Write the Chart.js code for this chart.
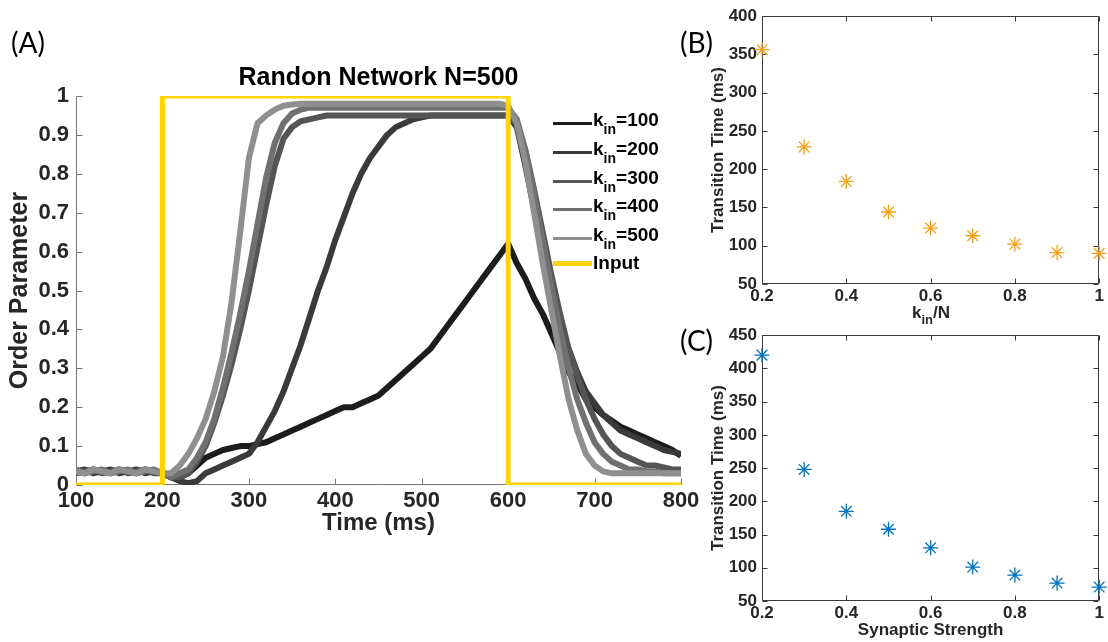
<!DOCTYPE html>
<html lang="en">
<head>
<meta charset="UTF-8">
<title>Randon Network N=500</title>
<script src="https://cdn.jsdelivr.net/npm/chart.js"></script>
<style>
    body { margin: 0; width: 1108px; height: 642px; background: #fff; position: relative; overflow: hidden;
           font-family: "Liberation Sans", Arial, Helvetica, sans-serif; }
    .caixa { position: absolute; }
    .painel { position: absolute; font-family: Lato, "Open Sans", sans-serif; font-size: 28px; line-height: 28px; color: #000; }
    .txt { position: absolute; font-weight: bold; white-space: nowrap; color: #000; }
    .txt sub { line-height: 0; }
    .leg { font-size: 19px; line-height: 19px; left: 593px; }
    .leg sub { font-size: 14px; vertical-align: -8px; }
    .traco { position: absolute; left: 553px; width: 39px; height: 3px; }
</style>
</head>
<body>

<div class="caixa" style="left:0;top:0;width:720px;height:560px"><canvas id="grafA"></canvas></div>
<div class="caixa" style="left:680px;top:0;width:428px;height:322px"><canvas id="grafB"></canvas></div>
<div class="caixa" style="left:680px;top:320px;width:428px;height:322px"><canvas id="grafC"></canvas></div>

<div class="painel" style="left:11px;top:28px">(A)</div>
<div class="painel" style="left:680px;top:28px">(B)</div>
<div class="painel" style="left:680px;top:326px">(C)</div>

<div class="txt" style="left:76px;width:605px;text-align:center;top:64px;font-size:25px;line-height:25px">Randon Network N=500</div>

<!-- legenda do painel A -->
<div class="traco" style="top:122px;background:#1c1c1c"></div>
<div class="txt leg" style="top:110px">k<sub>in</sub>=100</div>
<div class="traco" style="top:151px;background:#3a3a3a"></div>
<div class="txt leg" style="top:139px">k<sub>in</sub>=200</div>
<div class="traco" style="top:180px;background:#555555"></div>
<div class="txt leg" style="top:168px">k<sub>in</sub>=300</div>
<div class="traco" style="top:208px;background:#707070"></div>
<div class="txt leg" style="top:196px">k<sub>in</sub>=400</div>
<div class="traco" style="top:237px;background:#8f8f8f"></div>
<div class="txt leg" style="top:225px">k<sub>in</sub>=500</div>
<div class="traco" style="top:261px;height:5px;background:#ffd400"></div>
<div class="txt leg" style="top:253px">Input</div>

<div class="txt" style="left:880px;width:102px;text-align:center;top:304px;font-size:17px;line-height:17px;color:#262626">k<sub style="font-size:13px;vertical-align:-6px">in</sub>/N</div>

<script>
// ---- dados painel A ----
const tempo = [100, 110, 120, 130, 140, 150, 160, 170, 180, 190,
    200, 210, 220, 230, 240, 250, 260, 270, 280, 290,
    300, 310, 320, 330, 340, 350, 360, 370, 380, 390,
    400, 410, 420, 430, 440, 450, 460, 470, 480, 490,
    500, 510, 520, 530, 540, 550, 560, 570, 580, 590,
    600, 610, 620, 630, 640, 650, 660, 670, 680, 690,
    700, 710, 720, 730, 740, 750, 760, 770, 780, 790,
    800];

const k100 = [0.035, 0.03, 0.04, 0.035, 0.03, 0.04, 0.035, 0.03, 0.04, 0.035,
    0.03, 0.02, 0.02, 0.03, 0.05, 0.07, 0.08, 0.09, 0.095, 0.10,
    0.10, 0.105, 0.11, 0.12, 0.13, 0.14, 0.15, 0.16, 0.17, 0.18,
    0.19, 0.20, 0.20, 0.21, 0.22, 0.23, 0.25, 0.27, 0.29, 0.31,
    0.33, 0.35, 0.38, 0.41, 0.44, 0.47, 0.50, 0.53, 0.56, 0.59,
    0.62, 0.57, 0.53, 0.48, 0.44, 0.39, 0.34, 0.29, 0.26, 0.22,
    0.20, 0.18, 0.165, 0.15, 0.14, 0.13, 0.12, 0.11, 0.10, 0.09,
    0.075];

const k200 = [0.035, 0.04, 0.03, 0.035, 0.04, 0.03, 0.035, 0.04, 0.03, 0.035,
    0.03, 0.02, 0.01, 0.005, 0.01, 0.03, 0.04, 0.05, 0.06, 0.07,
    0.08, 0.11, 0.15, 0.19, 0.24, 0.30, 0.36, 0.43, 0.50, 0.56,
    0.63, 0.69, 0.75, 0.80, 0.84, 0.87, 0.90, 0.92, 0.93, 0.94,
    0.945, 0.95, 0.95, 0.95, 0.95, 0.95, 0.95, 0.95, 0.95, 0.95,
    0.95, 0.92, 0.82, 0.71, 0.60, 0.50, 0.42, 0.35, 0.29, 0.24,
    0.21, 0.18, 0.16, 0.14, 0.13, 0.12, 0.11, 0.10, 0.09, 0.085,
    0.08];

const k300 = [0.03, 0.035, 0.04, 0.03, 0.035, 0.04, 0.03, 0.035, 0.04, 0.03,
    0.03, 0.02, 0.02, 0.03, 0.06, 0.10, 0.16, 0.23, 0.31, 0.40,
    0.50, 0.61, 0.72, 0.82, 0.89, 0.92, 0.935, 0.94, 0.945, 0.95,
    0.95, 0.95, 0.95, 0.95, 0.95, 0.95, 0.95, 0.95, 0.95, 0.95,
    0.95, 0.95, 0.95, 0.95, 0.95, 0.95, 0.95, 0.95, 0.95, 0.95,
    0.95, 0.93, 0.86, 0.76, 0.65, 0.54, 0.44, 0.35, 0.28, 0.22,
    0.17, 0.13, 0.10, 0.08, 0.07, 0.06, 0.05, 0.05, 0.045, 0.04,
    0.04];

const k400 = [0.04, 0.03, 0.035, 0.04, 0.03, 0.035, 0.04, 0.03, 0.035, 0.04,
    0.03, 0.02, 0.03, 0.04, 0.07, 0.11, 0.17, 0.25, 0.34, 0.44,
    0.55, 0.67, 0.79, 0.88, 0.93, 0.955, 0.965, 0.97, 0.97, 0.97,
    0.97, 0.97, 0.97, 0.97, 0.97, 0.97, 0.97, 0.97, 0.97, 0.97,
    0.97, 0.97, 0.97, 0.97, 0.97, 0.97, 0.97, 0.97, 0.97, 0.97,
    0.97, 0.94, 0.86, 0.75, 0.63, 0.51, 0.40, 0.30, 0.22, 0.16,
    0.11, 0.08, 0.06, 0.05, 0.04, 0.04, 0.035, 0.035, 0.03, 0.03,
    0.03];

const k500 = [0.035, 0.03, 0.04, 0.035, 0.03, 0.04, 0.035, 0.03, 0.04, 0.035,
    0.03, 0.03, 0.05, 0.08, 0.12, 0.17, 0.24, 0.33, 0.47, 0.65,
    0.84, 0.93, 0.95, 0.965, 0.975, 0.978, 0.98, 0.98, 0.98, 0.98,
    0.98, 0.98, 0.98, 0.98, 0.98, 0.98, 0.98, 0.98, 0.98, 0.98,
    0.98, 0.98, 0.98, 0.98, 0.98, 0.98, 0.98, 0.98, 0.98, 0.98,
    0.975, 0.93, 0.83, 0.70, 0.57, 0.45, 0.33, 0.22, 0.14, 0.08,
    0.05, 0.035, 0.03, 0.03, 0.03, 0.03, 0.03, 0.03, 0.03, 0.03,
    0.03];

const entradaX = [100, 200, 200, 600, 600, 800];
const entradaY = [0, 0, 1, 1, 0, 0];

const ticksTempo = [100, 200, 300, 400, 500, 600, 700, 800];
const ticksOrdem = [0, 0.1, 0.2, 0.3, 0.4, 0.5, 0.6, 0.7, 0.8, 0.9, 1];

// ---- dados paineis B e C ----
const fracao = [0.2, 0.3, 0.4, 0.5, 0.6, 0.7, 0.8, 0.9, 1];
const tempoTransK = [356, 229, 184, 144, 123, 113, 102, 91, 90];
const forca = [0.2, 0.3, 0.4, 0.5, 0.6, 0.7, 0.8, 0.9, 1];
const tempoTransS = [420, 248, 185, 158, 130, 101, 89, 77, 71];

const ticksFracao = [0.2, 0.4, 0.6, 0.8, 1];
const ticksB = [50, 100, 150, 200, 250, 300, 350, 400];
const ticksC = [50, 100, 150, 200, 250, 300, 350, 400, 450];

const FONTE = '"Liberation Sans", Arial, Helvetica, sans-serif';
Chart.defaults.font.family = FONTE;

// eixos com marcas para dentro (estilo matlab)
const eixos = {
    id: 'eixos',
    beforeDatasetsDraw(chart, args, o) {
        const ctx = chart.ctx, a = chart.chartArea;
        const sx = chart.scales.x, sy = chart.scales.y;
        const L = Math.round(a.left) + 0.5, R = Math.round(a.right) - 0.5;
        const T = Math.round(a.top) + 0.5, B = Math.round(a.bottom) - 0.5;
        ctx.save();
        ctx.lineWidth = 1;
        ctx.strokeStyle = o.cor;
        ctx.beginPath();
        ctx.moveTo(L, T); ctx.lineTo(L, B); ctx.lineTo(R, B);
        if (o.caixa) { ctx.lineTo(R, T); ctx.closePath(); }
        sx.ticks.forEach(t => {
            const p = Math.round(sx.getPixelForValue(t.value)) + 0.5;
            ctx.moveTo(p, B); ctx.lineTo(p, B - o.tam);
            if (o.caixa) { ctx.moveTo(p, T); ctx.lineTo(p, T + o.tam); }
        });
        sy.ticks.forEach(t => {
            const p = Math.round(sy.getPixelForValue(t.value)) + 0.5;
            ctx.moveTo(L, p); ctx.lineTo(L + o.tam, p);
            if (o.caixa) { ctx.moveTo(R, p); ctx.lineTo(R - o.tam, p); }
        });
        ctx.stroke();
        ctx.restore();
    }
};

function pares(xs, ys) {
    return ys.map((v, i) => ({ x: xs[i], y: v }));
}

function fmt(v) {
    return String(Math.round(v * 10) / 10);
}

// ---- painel A ----
function serie(dados, cor, ordem) {
    return {
        data: pares(tempo, dados), borderColor: cor, borderWidth: 6, pointRadius: 0,
        tension: 0, fill: false, order: ordem, borderJoinStyle: 'round'
    };
}

new Chart(document.getElementById('grafA'), {
    type: 'line',
    data: {
        datasets: [
            { data: pares(entradaX, entradaY), borderColor: '#ffd400', borderWidth: 5, pointRadius: 0,
              tension: 0, fill: false, order: 0, borderJoinStyle: 'miter' },
            serie(k500, '#8f8f8f', 1),
            serie(k400, '#707070', 2),
            serie(k300, '#555555', 3),
            serie(k200, '#3a3a3a', 4),
            serie(k100, '#1c1c1c', 5)
        ]
    },
    options: {
        responsive: true, maintainAspectRatio: false, animation: false,
        layout: { padding: { top: 96, right: 39, left: 0, bottom: 0 } },
        plugins: { legend: { display: false }, tooltip: { enabled: false },
                   eixos: { cor: '#777', tam: 6, caixa: false } },
        scales: {
            x: {
                type: 'linear', min: 100, max: 800,
                afterBuildTicks: s => { s.ticks = ticksTempo.map(v => ({ value: v })); },
                afterFit: s => { s.height = 75; },
                grid: { display: false, drawTicks: false }, border: { display: false },
                ticks: { padding: 3, color: '#262626', maxRotation: 0, autoSkip: false,
                         font: { size: 22, weight: 'bold' } },
                title: { display: true, text: 'Time (ms)', color: '#262626',
                         font: { size: 24, weight: 'bold' }, padding: { top: 0, bottom: 22 } }
            },
            y: {
                min: 0, max: 1,
                afterBuildTicks: s => { s.ticks = ticksOrdem.map(v => ({ value: v })); },
                afterFit: s => { s.width = 76; },
                grid: { display: false, drawTicks: false }, border: { display: false },
                ticks: { padding: 7, color: '#262626', autoSkip: false, callback: fmt,
                         font: { size: 22, weight: 'bold' } },
                title: { display: true, text: 'Order Parameter', color: '#262626',
                         font: { size: 25, weight: 'bold' }, padding: { top: 5, bottom: 0 } }
            }
        }
    },
    plugins: [eixos]
});

// ---- paineis B e C ----
function dispersao(id, xs, ys, cor, yMin, yMax, yTicks, topo, direita, altX, tituloX) {
    const escalaX = {
        type: 'linear', min: 0.2, max: 1,
        afterBuildTicks: s => { s.ticks = ticksFracao.map(v => ({ value: v })); },
        afterFit: s => { s.height = altX; },
        grid: { display: false, drawTicks: false }, border: { display: false },
        ticks: { padding: 2, color: '#262626', maxRotation: 0, autoSkip: false, callback: fmt,
                 font: { size: 17, weight: 'bold' } }
    };
    if (tituloX) {
        escalaX.title = { display: true, text: tituloX, color: '#262626',
                          font: { size: 17, weight: 'bold' }, padding: { top: 0, bottom: 1 } };
    }
    new Chart(document.getElementById(id), {
        type: 'scatter',
        data: {
            datasets: [{
                data: pares(xs, ys), pointStyle: 'star', pointRadius: 7.5, borderWidth: 1.3,
                borderColor: cor, backgroundColor: cor, clip: false
            }]
        },
        options: {
            responsive: true, maintainAspectRatio: false, animation: false,
            layout: { padding: { top: topo, right: direita, left: 0, bottom: 0 } },
            plugins: { legend: { display: false }, tooltip: { enabled: false },
                       eixos: { cor: '#3a3a3a', tam: 5, caixa: true } },
            scales: {
                x: escalaX,
                y: {
                    min: yMin, max: yMax,
                    afterBuildTicks: s => { s.ticks = yTicks.map(v => ({ value: v })); },
                    afterFit: s => { s.width = 82; },
                    grid: { display: false, drawTicks: false }, border: { display: false },
                    ticks: { padding: 5, color: '#262626', autoSkip: false,
                             font: { size: 17, weight: 'bold' } },
                    title: { display: true, text: 'Transition Time (ms)', color: '#262626',
                             font: { size: 17, weight: 'bold' }, padding: { top: 28, bottom: 0 } }
                }
            }
        },
        plugins: [eixos]
    });
}

dispersao('grafB', fracao, tempoTransK, '#f5a01a', 50, 400, ticksB, 16, 8, 38, null);
dispersao('grafC', forca, tempoTransS, '#0072bd', 50, 450, ticksC, 13, 6, 41, 'Synaptic Strength');
</script>
</body>
</html>
